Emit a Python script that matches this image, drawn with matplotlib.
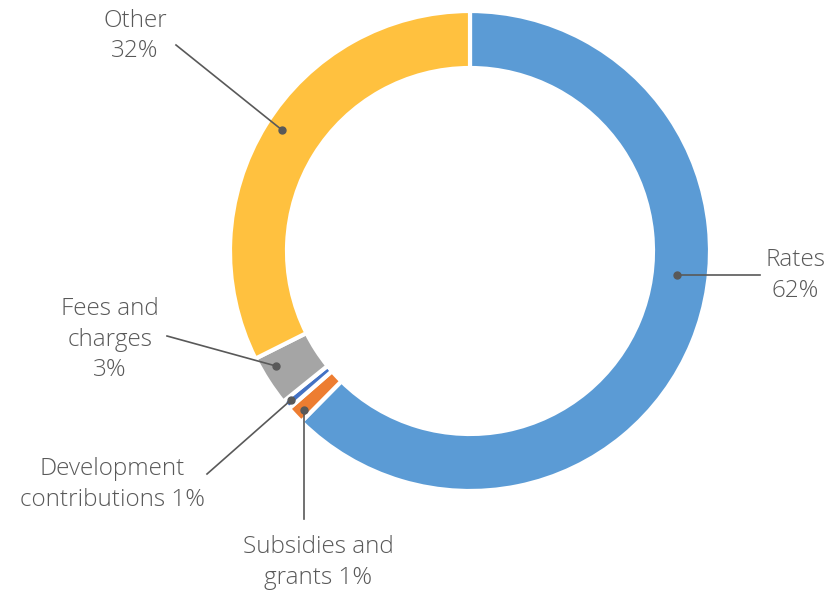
import numpy as np
import matplotlib.pyplot as plt

# revenue sources, clockwise from the top
sources = ['Rates', 'Subsidies and\ngrants', 'Development\ncontributions', 'Fees and\ncharges', 'Other']
shares = [62.4, 1.2, 0.6, 3.4, 32.4]
colours = ['#5B9BD5', '#ED7D31', '#4472C4', '#A5A5A5', '#FFC13F']

plt.rcParams['font.family'] = ['Open Sans', 'DejaVu Sans']

fig = plt.figure(figsize=(8.3, 5.94), dpi=100)
ax = fig.add_axes([0, 0, 1, 1])

cx, cy, R, w = 470, 343, 240, 57
wedges, _ = ax.pie(shares, colors=colours, startangle=90, counterclock=False,
                   center=(cx, cy), radius=R, frame=True,
                   wedgeprops=dict(width=w, edgecolor='white', linewidth=3))
ax.set_xlim(0, 830)
ax.set_ylim(0, 594)
ax.set_aspect('equal')
ax.axis('off')

def label(name, value):
    if name.startswith(('Development', 'Subsidies')):
        return f'{name} {value:.0f}%'
    return f'{name}\n{value:.0f}%'

# leader-line anchor on the ring, end of the line, text centre
callouts = [
    ((677, 319), (760, 319), (795, 318.5)),
    ((304, 184), (304, 75), (318, 31.5)),
    ((291, 194), (207, 120), (112, 109.5)),
    ((276, 228), (167, 258), (110, 254.5)),
    ((282, 464), (176, 549), (135, 558)),
]

grey = '#595959'
for name, value, (dot, end, txt) in zip(sources, shares, callouts):
    ax.plot([dot[0], end[0]], [dot[1], end[1]], color=grey, lw=1.2)
    ax.plot(*dot, 'o', color=grey, ms=5)
    ax.text(txt[0], txt[1], label(name, value), ha='center', va='center',
            fontsize=17.5, color=grey, linespacing=1.34, fontweight='light')

fig.savefig('out.png', dpi=100)
